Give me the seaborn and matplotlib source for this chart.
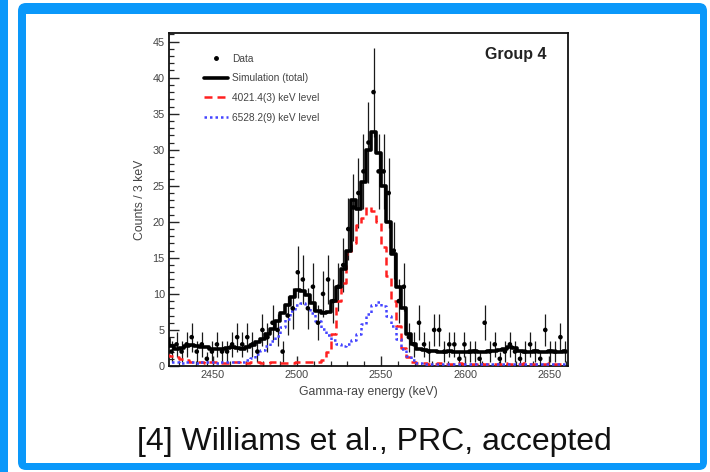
import numpy as np
import matplotlib
matplotlib.use("Agg")
import matplotlib.pyplot as plt
from matplotlib.lines import Line2D
from matplotlib.patches import FancyBboxPatch, Rectangle
from matplotlib.ticker import MultipleLocator
import seaborn as sns

# Binning: 3 keV bins
bin_start = 2421
bin_width = 3
n_bins = 80

# Simulation (total)
sim_total = [3.8, 2.8, 2.3, 2.5, 2.8, 2.9, 2.8, 2.7, 2.6, 2.4,
             2.3, 2.4, 2.5, 2.6, 2.5, 2.4, 2.6, 2.9, 3.3, 3.8,
             4.4, 5.2, 6.2, 7.3, 8.4, 9.6, 10.6, 10.4, 9.9, 8.8,
             7.6, 7.3, 7.5, 9.0, 11.0, 13.5, 16.0, 23.0, 21.8, 25.5,
             30.0, 32.5, 29.5, 25.0, 20.0, 15.5, 11.0, 8.0, 4.5, 3.0,
             2.4, 2.2, 2.1, 2.1, 2.0, 2.0, 2.1, 2.0, 1.9, 2.0,
             2.0, 2.1, 2.0, 2.0, 2.1, 2.1, 2.2, 2.3, 2.6, 2.5,
             2.1, 2.0, 2.0, 2.1, 2.0, 2.0, 2.1, 2.0, 2.0, 2.1]

# 4021.4(3) keV level component
level_4021 = [1.5, 1.4, 1.2, 1.0, 0.8, 0.6, 0.5, 0.5, 0.4, 0.5,
              0.5, 0.4, 0.4, 0.5, 0.5, 0.4, 0.4, 0.5, 0.5, 0.4,
              0.4, 0.5, 0.5, 0.4, 0.4, 0.4, 0.5, 0.5, 0.5, 0.6,
              0.6, 0.8, 2.0, 4.5, 9.0, 11.5, 15.5, 17.0, 19.5, 20.5,
              22.0, 21.5, 20.0, 16.5, 12.5, 9.0, 5.5, 2.5, 1.2, 0.6,
              0.4, 0.4, 0.3, 0.3, 0.4, 0.3, 0.3, 0.3, 0.4, 0.3,
              0.3, 0.3, 0.4, 0.3, 0.3, 0.3, 0.3, 0.4, 0.3, 0.3,
              0.3, 0.4, 0.3, 0.3, 0.3, 0.3, 0.4, 0.3, 0.3, 0.3]

# 6528.2(9) keV level component
level_6528 = [0.5, 0.5, 0.5, 0.4, 0.5, 0.5, 0.4, 0.5, 0.5, 0.5,
              0.4, 0.5, 0.5, 0.5, 0.5, 0.6, 0.8, 1.1, 1.6, 2.2,
              2.8, 3.4, 4.2, 5.4, 6.5, 7.6, 8.5, 8.7, 8.2, 7.3,
              6.2, 5.2, 4.3, 3.6, 3.0, 2.8, 3.0, 3.6, 4.5, 5.8,
              7.2, 8.4, 8.9, 8.3, 7.0, 5.6, 3.8, 2.4, 1.4, 0.8,
              0.4, 0.3, 0.3, 0.3, 0.3, 0.3, 0.3, 0.3, 0.3, 0.3,
              0.3, 0.3, 0.3, 0.3, 0.3, 0.3, 0.3, 0.3, 0.3, 0.3,
              0.3, 0.3, 0.3, 0.3, 0.3, 0.3, 0.3, 0.3, 0.3, 0.3]

# Measured counts per bin
data_counts = [5, 2, 3, 2, 3, 4, 2, 3, 1, 2,
               3, 2, 2, 3, 4, 3, 4, 3, 2, 5,
               4, 6, 5, 2, 7, 8, 13, 12, 8, 11,
               6, 10, 12, 9, 11, 14, 19, 22, 24, 27,
               31, 38, 27, 27, 24, 16, 9, 11, 4, 3,
               6, 3, 2, 5, 5, 2, 3, 3, 1, 3,
               2, 2, 1, 6, 2, 3, 1, 2, 3, 2,
               1, 2, 3, 2, 1, 5, 2, 2, 4, 2]

x_ticks = [2450, 2500, 2550, 2600, 2650]
y_ticks = [0, 5, 10, 15, 20, 25, 30, 35, 40, 45]

energy = bin_start + bin_width * (np.arange(n_bins) + 0.5)
counts = np.array(data_counts, dtype=float)
count_err = np.sqrt(counts)

sns.set_style("ticks")
plt.rcParams['font.family'] = ['Liberation Sans', 'DejaVu Sans']

fig = plt.figure(figsize=(7.1, 4.72), dpi=100)
fig.patch.set_facecolor('white')

# Slide frame (blue border), drawn behind the axes
blue = '#0a98fa'
fig.patches.append(Rectangle((-0.05, -0.05), 0.13, 4.9, transform=fig.dpi_scale_trans,
                             facecolor=blue, edgecolor='none', zorder=-5))
fig.patches.append(FancyBboxPatch((0.18, 0.02), 6.89, 4.67, boxstyle="round,pad=0,rounding_size=0.08",
                                  transform=fig.dpi_scale_trans, facecolor=blue, edgecolor='none', zorder=-5))
fig.patches.append(Rectangle((0.26, 0.09), 6.74, 4.49, transform=fig.dpi_scale_trans,
                             facecolor='white', edgecolor='none', zorder=-4))

ax = fig.add_axes([0.238, 0.2246, 0.562, 0.7055])
ax.set_zorder(2)
ax.set_facecolor('white')

# Data with error bars
ax.errorbar(energy, counts, yerr=count_err, fmt='none', ecolor='#1a1a1a', elinewidth=0.9, zorder=2)

sns.lineplot(x=energy, y=level_4021, ax=ax, color='#ff2020', linewidth=1.8,
             linestyle=(0, (3.2, 2.0)), drawstyle='steps-mid', zorder=3)
sns.lineplot(x=energy, y=level_6528, ax=ax, color='#4444ff', linewidth=1.8,
             linestyle=(0, (1, 1.2)), drawstyle='steps-mid', zorder=3)
sns.lineplot(x=energy, y=sim_total, ax=ax, color='black', linewidth=2.6,
             drawstyle='steps-mid', zorder=4)
sns.scatterplot(x=energy, y=counts, ax=ax, color='black', s=11, marker='o',
                edgecolor='none', zorder=5)

ax.set_xlim(2424, 2661)
ax.set_ylim(0, 46.2)
ax.set_xticks(x_ticks)
ax.set_yticks(y_ticks)
ax.xaxis.set_minor_locator(MultipleLocator(10))
ax.yaxis.set_minor_locator(MultipleLocator(1))
ax.tick_params(which='major', direction='in', length=7, width=1.0, labelsize=7.8,
               labelcolor='#444444', pad=3)
ax.tick_params(which='minor', direction='in', length=3.5, width=0.9)
for s in ax.spines.values():
    s.set_linewidth(1.3)
    s.set_color('#111111')

ax.set_xlabel('Gamma-ray energy (keV)', fontsize=8.8, color='#444444', labelpad=4)
ax.set_ylabel('Counts / 3 keV', fontsize=8.8, color='#444444', labelpad=5)

ax.text(0.945, 0.935, 'Group 4', transform=ax.transAxes, ha='right', va='center',
        fontsize=11.5, fontweight='bold', color='#222222')

handles = [
    Line2D([], [], color='black', marker='o', markersize=2.5, linestyle='none'),
    Line2D([], [], color='black', linewidth=2.6),
    Line2D([], [], color='#ff2020', linewidth=1.8, linestyle=(0, (3.2, 2.0))),
    Line2D([], [], color='#4444ff', linewidth=1.8, linestyle=(0, (1, 1.2))),
]
labels = ['Data', 'Simulation (total)', '4021.4(3) keV level', '6528.2(9) keV level']
leg = ax.legend(handles, labels, loc='upper left', bbox_to_anchor=(0.065, 0.965), frameon=False,
                fontsize=7.3, handlelength=2.4, handletextpad=0.4, labelspacing=0.95)
for t in leg.get_texts():
    t.set_color('#444444')

fig.text(0.527, 0.064, '[4] Williams et al., PRC, accepted', ha='center', va='center',
         fontsize=23, color='#111111')

fig.savefig('out.png', dpi=100, facecolor='white')
